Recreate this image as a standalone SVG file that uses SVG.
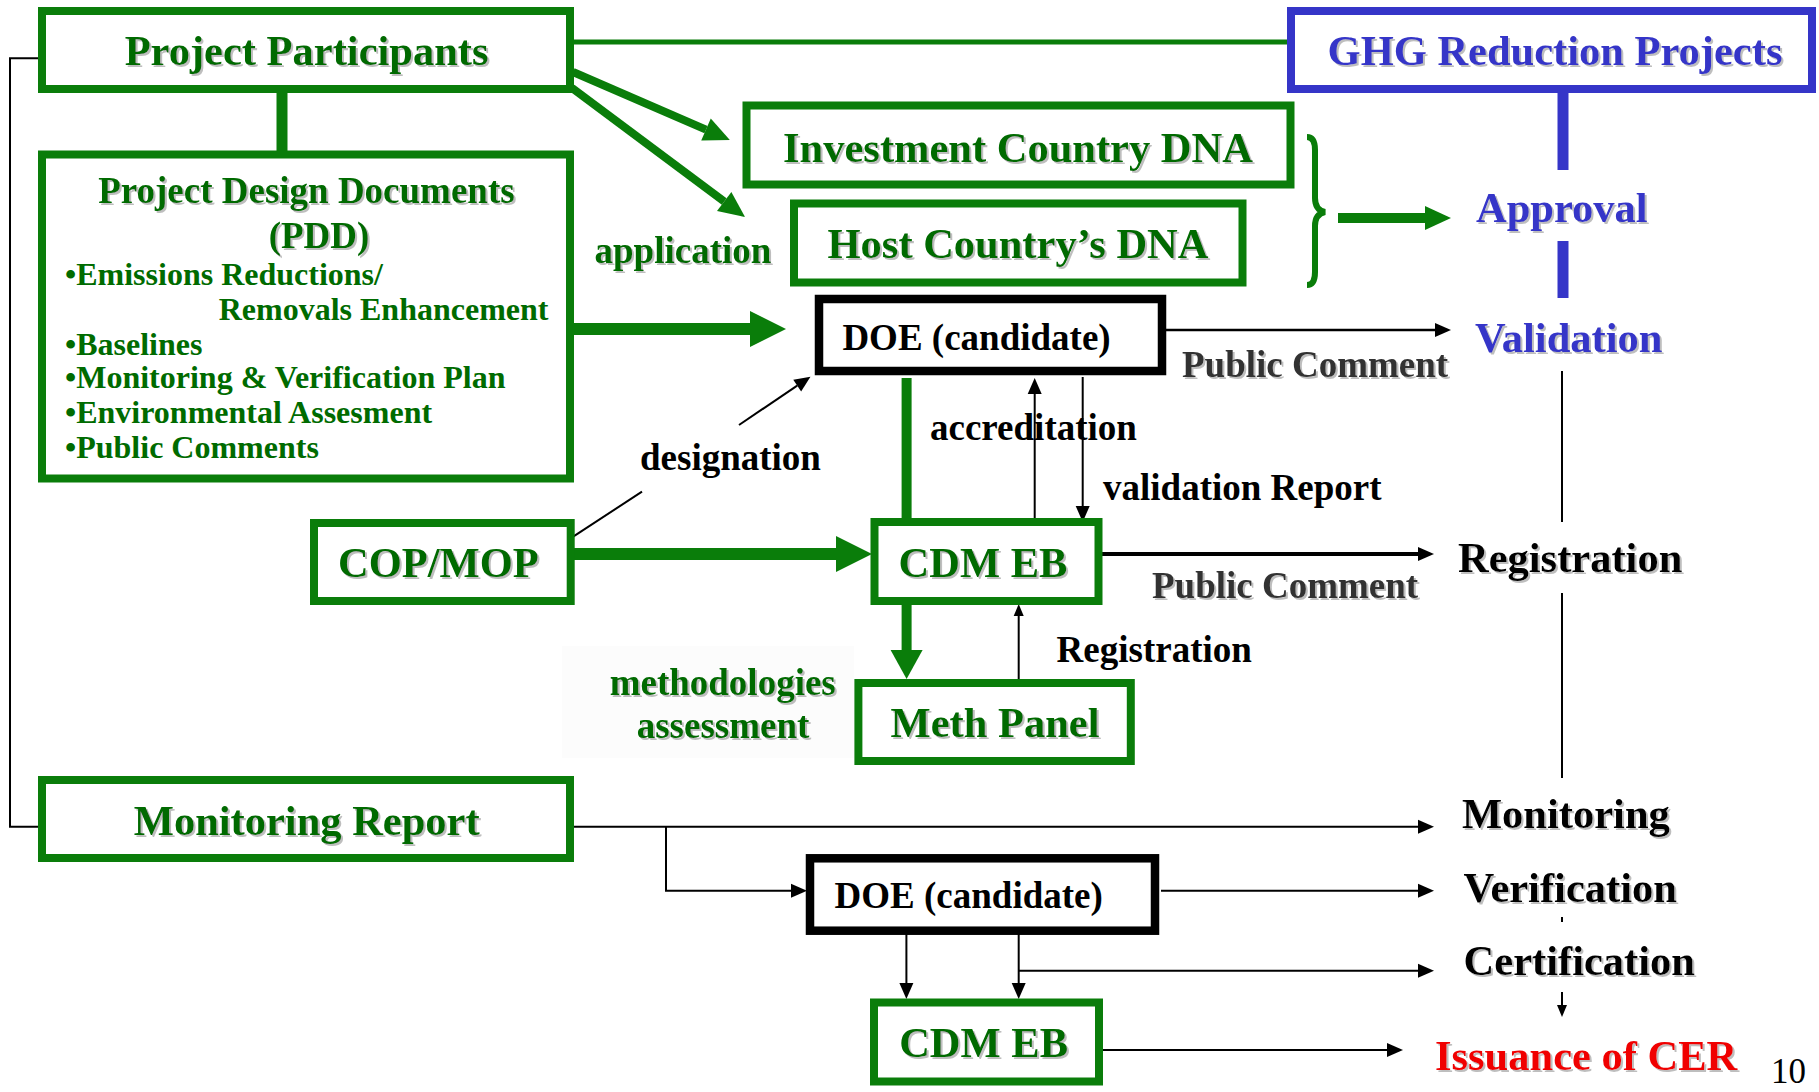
<svg xmlns="http://www.w3.org/2000/svg" width="1819" height="1092" viewBox="0 0 1819 1092">
<style>
text{font-family:"Liberation Serif","Times New Roman",serif;font-weight:bold}
.g{fill:#006b00}
.b{fill:#3535c8}
.k{fill:#000}
.d{fill:#333}
.r{fill:#f00000}
.big{font-size:42.5px}
.mid{font-size:37px}
.sm{font-size:32px}
.c{text-anchor:middle}
.sh{filter:url(#shadow)}
.gbox{fill:#fff;stroke:#0a7d0a;stroke-width:8}
.kbox{fill:#fff;stroke:#000;stroke-width:8.5}
.bbox{fill:#fff;stroke:#3535c8;stroke-width:8}
.gl{stroke:#0a7d0a;fill:none}
.kl{stroke:#000;fill:none}
</style>
<defs>
<filter id="shadow" x="-5%" y="-20%" width="115%" height="150%">
<feDropShadow dx="2" dy="2" stdDeviation="0.6" flood-color="#888" flood-opacity="0.55"/>
</filter>
<marker id="gBig" markerUnits="userSpaceOnUse" viewBox="0 -20 40 40" markerWidth="40" markerHeight="40" refX="0" refY="0" orient="auto" overflow="visible">
<path d="M0,-18 L36,0 L0,18 z" fill="#0a7d0a"/>
</marker>
<marker id="gV" markerUnits="userSpaceOnUse" viewBox="0 -20 40 40" markerWidth="40" markerHeight="40" refX="0" refY="0" orient="auto" overflow="visible">
<path d="M0,-16 L29,0 L0,16 z" fill="#0a7d0a"/>
</marker>
<marker id="gMid" markerUnits="userSpaceOnUse" viewBox="0 -20 40 40" markerWidth="40" markerHeight="40" refX="0" refY="0" orient="auto" overflow="visible">
<path d="M0,-12 L26,0 L0,12 z" fill="#0a7d0a"/>
</marker>
<marker id="bk" markerUnits="userSpaceOnUse" viewBox="0 -10 20 20" markerWidth="20" markerHeight="20" refX="0" refY="0" orient="auto" overflow="visible">
<path d="M0,-7 L16,0 L0,7 z" fill="#000"/>
</marker>
<marker id="bks" markerUnits="userSpaceOnUse" viewBox="0 -10 20 20" markerWidth="20" markerHeight="20" refX="0" refY="0" orient="auto" overflow="visible">
<path d="M0,-5 L12,0 L0,5 z" fill="#000"/>
</marker>
</defs>
<rect width="1819" height="1092" fill="#fff"/>
<rect x="562" y="646" width="292" height="112" fill="#fcfcfc"/>

<g id="connectors">
<line class="gl" x1="573" y1="42" x2="1287" y2="42" stroke-width="5"/>
<line class="gl" x1="282" y1="92" x2="282" y2="151" stroke-width="11"/>
<line class="gl" x1="573" y1="72" x2="706" y2="129.6" stroke-width="8" marker-end="url(#gMid)"/>
<line class="gl" x1="572" y1="88" x2="724.2" y2="201.5" stroke-width="8" marker-end="url(#gMid)"/>
<line class="gl" x1="573" y1="329" x2="750" y2="329" stroke-width="12" marker-end="url(#gBig)"/>
<path class="gl" d="M1307,137 Q1315,137 1315,150 L1315,198 Q1315,210 1325,212 Q1315,214 1315,226 L1315,272 Q1315,285 1307,285" stroke-width="6"/>
<line class="gl" x1="1338" y1="218" x2="1425" y2="218" stroke-width="10" marker-end="url(#gMid)"/>
<line x1="1563" y1="92" x2="1563" y2="170" stroke="#3535c8" stroke-width="11"/>
<line x1="1563" y1="241" x2="1563" y2="298" stroke="#3535c8" stroke-width="11"/>
<line class="kl" x1="1166" y1="330" x2="1435" y2="330" stroke-width="2.5" marker-end="url(#bk)"/>
<line class="kl" x1="1562" y1="371" x2="1562" y2="522" stroke-width="2"/>
<line class="kl" x1="1562" y1="593" x2="1562" y2="778" stroke-width="2"/>
<line class="kl" x1="1562" y1="917" x2="1562" y2="922" stroke-width="2"/>
<line class="kl" x1="1562" y1="992" x2="1562" y2="1005" stroke-width="2" marker-end="url(#bks)"/>
<line class="gl" x1="906.6" y1="378" x2="906.6" y2="518" stroke-width="10"/>
<line class="kl" x1="1034.7" y1="522" x2="1034.7" y2="394" stroke-width="2" marker-end="url(#bk)"/>
<line class="kl" x1="1082.7" y1="377" x2="1082.7" y2="506" stroke-width="2" marker-end="url(#bk)"/>
<line class="kl" x1="570.5" y1="538.3" x2="642" y2="491.7" stroke-width="2"/>
<line class="kl" x1="739" y1="425" x2="797.2" y2="385.6" stroke-width="2" marker-end="url(#bk)"/>
<line class="gl" x1="574" y1="554" x2="836" y2="554" stroke-width="12" marker-end="url(#gBig)"/>
<line class="kl" x1="1102" y1="554" x2="1418" y2="554" stroke-width="4" marker-end="url(#bk)"/>
<line class="gl" x1="906.6" y1="605" x2="906.6" y2="650" stroke-width="10" marker-end="url(#gV)"/>
<line class="kl" x1="1018.7" y1="679" x2="1018.7" y2="616" stroke-width="2" marker-end="url(#bks)"/>
<polyline class="kl" points="38,58.3 10,58.3 10,826.7 38,826.7" stroke-width="2"/>
<line class="kl" x1="573" y1="826.7" x2="1418" y2="826.7" stroke-width="2" marker-end="url(#bk)"/>
<polyline class="kl" points="666,826.7 666,890.7 791,890.7" stroke-width="2" marker-end="url(#bk)"/>
<line class="kl" x1="1161" y1="890.7" x2="1418" y2="890.7" stroke-width="2" marker-end="url(#bk)"/>
<line class="kl" x1="906.4" y1="921.7" x2="906.4" y2="983" stroke-width="2" marker-end="url(#bk)"/>
<line class="kl" x1="1018.7" y1="921.7" x2="1018.7" y2="983" stroke-width="2" marker-end="url(#bk)"/>
<line class="kl" x1="1018.7" y1="970.7" x2="1418" y2="970.7" stroke-width="2" marker-end="url(#bk)"/>
<line class="kl" x1="1103" y1="1050" x2="1387" y2="1050" stroke-width="2" marker-end="url(#bk)"/>
</g>

<g id="edge-labels">
<text class="g mid sh" x="594.5" y="263">application</text>
<text class="k mid" x="640" y="470">designation</text>
<text class="k mid" x="930" y="440">accreditation</text>
<text class="k mid" x="1103" y="500">validation Report</text>
<text class="d mid sh" x="1182" y="377">Public Comment</text>
<text class="d mid sh" x="1152" y="598">Public Comment</text>
<text class="k mid" x="1056.6" y="662">Registration</text>
<text class="g mid sh c" x="722.7" y="695">methodologies</text>
<text class="g mid sh c" x="723" y="738">assessment</text>
</g>

<g id="project-participants">
<rect class="gbox" x="42" y="11" width="528" height="78"/>
<text class="g big sh c" x="306.6" y="65">Project Participants</text>
</g>
<g id="ghg-reduction-projects">
<rect class="bbox" x="1291" y="11" width="521" height="78"/>
<text class="b big sh c" x="1555" y="65">GHG Reduction Projects</text>
</g>
<g id="pdd">
<rect class="gbox" x="42" y="154.5" width="528" height="324"/>
<text class="g mid sh c" x="306.4" y="203">Project Design Documents</text>
<text class="g mid sh c" x="319" y="248">(PDD)</text>
<text class="g sm" x="65" y="285">•Emissions Reductions/</text>
<text class="g sm" x="218.7" y="320">Removals Enhancement</text>
<text class="g sm" x="65" y="355">•Baselines</text>
<text class="g sm" x="65" y="388">•Monitoring &amp; Verification Plan</text>
<text class="g sm" x="65" y="423">•Environmental Assesment</text>
<text class="g sm" x="65" y="458">•Public Comments</text>
</g>
<g id="investment-country-dna">
<rect class="gbox" x="746.5" y="105.5" width="544" height="79" stroke-width="7"/>
<text class="g big sh c" x="1018" y="162">Investment Country DNA</text>
</g>
<g id="host-country-dna">
<rect class="gbox" x="794" y="203.5" width="448.5" height="79" stroke-width="7"/>
<text class="g big sh c" x="1018" y="258">Host Country’s DNA</text>
</g>
<g id="doe-candidate-1">
<rect class="kbox" x="819" y="299" width="343" height="72"/>
<text class="k mid c" x="976.5" y="350">DOE (candidate)</text>
</g>
<g id="cop-mop">
<rect class="gbox" x="314" y="523" width="256.7" height="78"/>
<text class="g big sh c" x="438.4" y="577">COP/MOP</text>
</g>
<g id="cdm-eb-1">
<rect class="gbox" x="874.5" y="522" width="224" height="79"/>
<text class="g big sh c" x="983" y="577">CDM EB</text>
</g>
<g id="meth-panel">
<rect class="gbox" x="858.4" y="683" width="272.4" height="78"/>
<text class="g big sh c" x="995" y="737">Meth Panel</text>
</g>
<g id="monitoring-report">
<rect class="gbox" x="42" y="780" width="528" height="78"/>
<text class="g big sh c" x="306.7" y="835">Monitoring Report</text>
</g>
<g id="doe-candidate-2">
<rect class="kbox" x="810" y="858.3" width="345" height="72.4"/>
<text class="k mid c" x="968.7" y="908">DOE (candidate)</text>
</g>
<g id="cdm-eb-2">
<rect class="gbox" x="874" y="1002.5" width="225" height="79"/>
<text class="g big sh c" x="983.6" y="1057">CDM EB</text>
</g>

<g id="approval"><text class="b big sh" x="1476" y="222">Approval</text></g>
<g id="validation"><text class="b big sh" x="1475" y="352">Validation</text></g>
<g id="registration"><text class="k big sh" x="1458" y="572">Registration</text></g>
<g id="monitoring"><text class="k big sh" x="1462" y="828">Monitoring</text></g>
<g id="verification"><text class="k big sh" x="1463.6" y="902">Verification</text></g>
<g id="certification"><text class="k big sh" x="1463.6" y="975">Certification</text></g>
<g id="issuance"><text class="r big sh" x="1435" y="1070">Issuance of CER</text></g>
<text x="1771" y="1083" style="font-weight:normal;font-size:35px" fill="#000">10</text>
</svg>
